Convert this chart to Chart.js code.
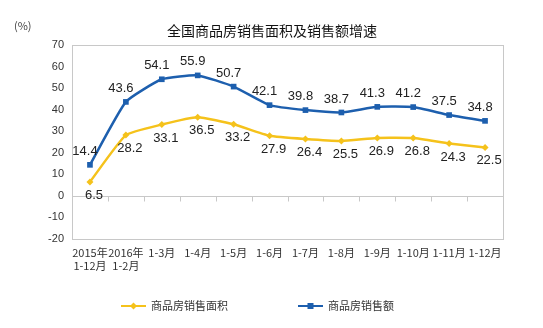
<!DOCTYPE html>
<html><head><meta charset="utf-8">
<script src="https://cdn.jsdelivr.net/npm/chart.js@4/dist/chart.umd.min.js"></script>
<style>html,body{margin:0;padding:0;background:#fff}#wrap{width:543px;height:328px}</style>
</head><body><div id="wrap"><canvas id="c" width="543" height="328"></canvas></div>
<script>
const categories = [["2015年","1-12月"],["2016年","1-2月"],"1-3月","1-4月","1-5月","1-6月","1-7月","1-8月","1-9月","1-10月","1-11月","1-12月"];
const areaGrowth = [6.5,28.2,33.1,36.5,33.2,27.9,26.4,25.5,26.9,26.8,24.3,22.5];
const salesGrowth = [14.4,43.6,54.1,55.9,50.7,42.1,39.8,38.7,41.3,41.2,37.5,34.8];
const seriesNames = ["商品房销售面积","商品房销售额"];
const chartTitle = "全国商品房销售面积及销售额增速";
const unitLabel = "(%)";
const yMin = -20, yMax = 70, yStep = 10;

const BLUE = "#1d5fae", YELLOW = "#f5c21b";
const FONT = "'Liberation Sans', Arial, sans-serif";

const decor = {
  id: "decor",
  afterDraw(chart) {
    const ctx = chart.ctx, x = chart.scales.x, y = chart.scales.y, ca = chart.chartArea;
    ctx.save();
    const y0 = Math.round(y.getPixelForValue(0)) + 0.5;
    ctx.strokeStyle = "#c8c8c8"; ctx.lineWidth = 1;
    ctx.beginPath(); ctx.moveTo(ca.left, y0); ctx.lineTo(ca.right, y0);
    const n = categories.length, w = (ca.right - ca.left) / n;
    for (let i = 1; i < n; i++) { const px = Math.round(ca.left + i * w) + 0.5; ctx.moveTo(px, y0); ctx.lineTo(px, y0 + 5); }
    ctx.stroke();
    ctx.font = "13px " + FONT; ctx.fillStyle = "#222"; ctx.textAlign = "center";
    chart.data.datasets.forEach((ds, di) => {
      const meta = chart.getDatasetMeta(di);
      meta.data.forEach((pt, i) => {
        const v = ds.data[i];
        if (di === 1) { ctx.textBaseline = "bottom"; ctx.fillText(v.toFixed(1), pt.x - 5, pt.y - 7); }
        else { ctx.textBaseline = "top"; ctx.fillText(v.toFixed(1), pt.x + 4, pt.y + 7); }
      });
    });
    ctx.font = "14px 'Noto Sans CJK SC', sans-serif"; ctx.fillStyle = "#111"; ctx.textBaseline = "middle"; ctx.textAlign = "center";
    ctx.fillText(chartTitle, 272, 31);
    ctx.font = "11px 'Noto Sans CJK SC', sans-serif"; ctx.fillStyle = "#444"; ctx.textAlign = "left";
    ctx.fillText(unitLabel, 14, 26);
    const items = [{c: YELLOW, t: seriesNames[0], x: 121, m: "d"}, {c: BLUE, t: seriesNames[1], x: 298, m: "s"}];
    const ly = 306;
    items.forEach(it => {
      ctx.strokeStyle = it.c; ctx.lineWidth = 2;
      ctx.beginPath(); ctx.moveTo(it.x, ly); ctx.lineTo(it.x + 25, ly); ctx.stroke();
      ctx.fillStyle = it.c; const cx = it.x + 12.5;
      if (it.m === "s") ctx.fillRect(cx - 3, ly - 3, 6, 6);
      else { ctx.beginPath(); ctx.moveTo(cx, ly - 3.5); ctx.lineTo(cx + 3.5, ly); ctx.lineTo(cx, ly + 3.5); ctx.lineTo(cx - 3.5, ly); ctx.closePath(); ctx.fill(); }
      ctx.fillStyle = "#333"; ctx.font = "11px 'Noto Sans CJK SC', sans-serif"; ctx.textAlign = "left"; ctx.textBaseline = "middle";
      ctx.fillText(it.t, it.x + 30, ly);
    });
    ctx.restore();
  }
};

new Chart(document.getElementById("c"), {
  type: "line",
  data: {
    labels: categories,
    datasets: [
      {label: seriesNames[0], data: areaGrowth, borderColor: YELLOW, backgroundColor: YELLOW, borderWidth: 2.5, pointStyle: "rectRot", pointRadius: 3.5, pointBorderWidth: 0, tension: 0.15},
      {label: seriesNames[1], data: salesGrowth, borderColor: BLUE, backgroundColor: BLUE, borderWidth: 2.5, pointStyle: "rect", pointRadius: 4, pointBorderWidth: 0, tension: 0.15}
    ]
  },
  options: {
    responsive: false, animation: false, devicePixelRatio: 1,
    layout: {padding: {top: 45, right: 40, left: 0, bottom: 0}},
    plugins: {legend: {display: false}, tooltip: {enabled: false}, title: {display: false}},
    scales: {
      x: {
        offset: true,
        grid: {display: false, drawTicks: false},
        border: {display: true, color: "#c8c8c8"},
        ticks: {font: {size: 11, family: "'Noto Sans CJK SC', sans-serif"}, color: "#333", maxRotation: 0, autoSkip: false, padding: 7},
        afterFit(s) { s.height = 89; }
      },
      y: {
        min: yMin, max: yMax,
        ticks: {stepSize: yStep, font: {size: 11, family: FONT}, color: "#333", padding: 8},
        grid: {display: false, drawTicks: false},
        border: {display: true, color: "#c8c8c8"},
        afterFit(s) { s.width = 72; }
      }
    }
  },
  plugins: [decor, {id: "box", beforeDatasetsDraw(chart) {
    const ctx = chart.ctx, ca = chart.chartArea; ctx.save(); ctx.strokeStyle = "#c8c8c8"; ctx.lineWidth = 1;
    ctx.strokeRect(Math.round(ca.left) + 0.5, Math.round(ca.top) + 0.5, Math.round(ca.right - ca.left), Math.round(ca.bottom - ca.top)); ctx.restore();
  }}]
});
</script></body></html>
